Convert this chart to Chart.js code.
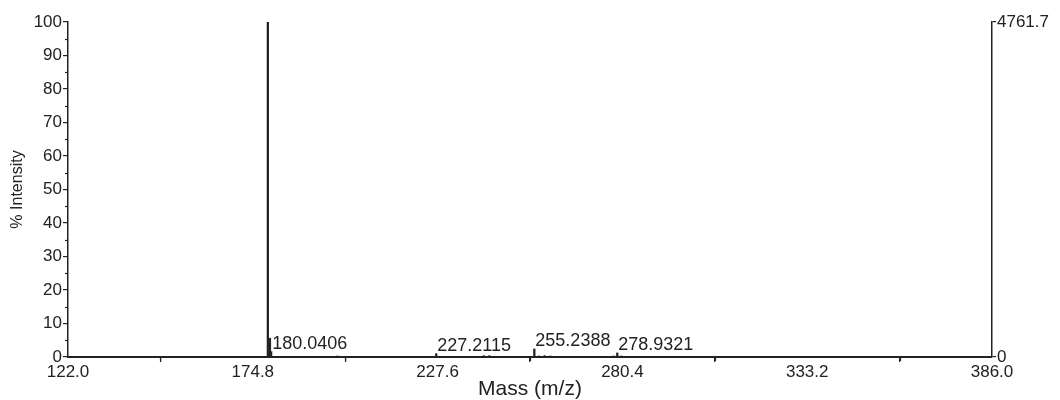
<!DOCTYPE html>
<html>
<head>
<meta charset="utf-8">
<title>Mass spectrum</title>
<script src="https://cdn.jsdelivr.net/npm/chart.js@4.4.1/dist/chart.umd.min.js"></script>
<style>
    html, body { margin: 0; padding: 0; background: #fff; }
    #wrap { width: 1060px; height: 400px; position: relative; }
</style>
</head>
<body>
<div id="wrap"><canvas id="spectrum"></canvas></div>
<script>
    // peak list (m/z, % intensity)
    const peakMasses = [179.1, 179.7, 180.04, 199.0, 227.21, 240.8, 242.4, 255.24, 256.6, 258.2, 259.8, 277.9, 278.93, 280.1];
    const peakIntensities = [100, 5.6, 1.6, 0.3, 1.0, 0.4, 0.4, 2.4, 0.3, 0.4, 0.3, 0.3, 1.2, 0.3];

    // labelled peaks
    const labelMasses = [180.0406, 227.2115, 255.2388, 278.9321];
    const labelIntensities = [1.6, 1.0, 2.4, 1.2];

    const xTicks = [122.0, 174.8, 227.6, 280.4, 333.2, 386.0];
    const xMinorTicks = [148.4, 201.2, 254.0, 306.8, 359.6];
    const yTicks = [0, 10, 20, 30, 40, 50, 60, 70, 80, 90, 100];
    const yMinorTicks = [5, 15, 25, 35, 45, 55, 65, 75, 85, 95];
    const countsMax = 4761.7;
    const countsTicks = [0, 4761.7];

    const FONT = 'Liberation Sans, Arial, sans-serif';
    const INK = '#222';

    const points = peakMasses.map((m, i) => ({ x: m, y: peakIntensities[i] }));

    // minor ticks and peak labels, drawn through the scales
    const extrasPlugin = {
        id: 'extras',
        afterDraw(chart) {
            const ctx = chart.ctx;
            const xs = chart.scales.x;
            const ys = chart.scales.y;
            const area = chart.chartArea;
            ctx.save();
            ctx.strokeStyle = INK;
            ctx.lineWidth = 1.2;
            xMinorTicks.forEach(v => {
                const px = Math.round(xs.getPixelForValue(v)) + 0.5;
                ctx.beginPath();
                ctx.moveTo(px, area.bottom);
                ctx.lineTo(px, area.bottom + 4);
                ctx.stroke();
            });
            yMinorTicks.forEach(v => {
                const py = Math.round(ys.getPixelForValue(v)) + 0.5;
                ctx.beginPath();
                ctx.moveTo(area.left - 3, py);
                ctx.lineTo(area.left, py);
                ctx.stroke();
            });
            ctx.fillStyle = INK;
            ctx.font = '18px ' + FONT;
            ctx.textAlign = 'left';
            ctx.textBaseline = 'alphabetic';
            labelMasses.forEach((m, i) => {
                const px = xs.getPixelForValue(m) + 1;
                const py = ys.getPixelForValue(labelIntensities[i]) - 3;
                ctx.fillText(m.toFixed(4), px, py);
            });
            ctx.restore();
        }
    };

    new Chart(document.getElementById('spectrum').getContext('2d'), {
        type: 'bar',
        data: {
            datasets: [{
                label: '% Intensity',
                data: points,
                backgroundColor: INK,
                borderWidth: 0,
                barThickness: 1.6,
                xAxisID: 'x',
                yAxisID: 'y'
            }]
        },
        options: {
            responsive: true,
            maintainAspectRatio: false,
            animation: false,
            layout: { padding: { top: 22, right: 0, bottom: 0, left: 0 } },
            plugins: {
                legend: { display: false },
                tooltip: { enabled: false }
            },
            scales: {
                x: {
                    type: 'linear',
                    min: 122,
                    max: 386,
                    offset: false,
                    afterBuildTicks: s => { s.ticks = xTicks.map(v => ({ value: v })); },
                    afterFit: s => { s.height = 43; },
                    grid: { drawOnChartArea: false, drawTicks: true, tickLength: 5, color: INK, lineWidth: 1.2 },
                    border: { display: true, color: INK, width: 2 },
                    ticks: {
                        color: INK,
                        font: { family: FONT, size: 17 },
                        padding: 0,
                        maxRotation: 0,
                        autoSkip: false,
                        callback: v => Number(v).toFixed(1)
                    },
                    title: {
                        display: true,
                        text: 'Mass (m/z)',
                        color: INK,
                        font: { family: FONT, size: 21, lineHeight: 1 },
                        padding: { top: 0, bottom: 0 }
                    }
                },
                y: {
                    type: 'linear',
                    position: 'left',
                    min: 0,
                    max: 100,
                    afterBuildTicks: s => { s.ticks = yTicks.map(v => ({ value: v })); },
                    afterFit: s => { s.width = 68; },
                    grid: { drawOnChartArea: false, drawTicks: true, tickLength: 5, color: INK, lineWidth: 1.2 },
                    border: { display: true, color: INK, width: 1.5 },
                    ticks: {
                        color: INK,
                        font: { family: FONT, size: 17 },
                        padding: 1,
                        autoSkip: false
                    },
                    title: {
                        display: true,
                        text: '% Intensity',
                        color: INK,
                        font: { family: FONT, size: 16 },
                        padding: { top: 8, bottom: 0 }
                    }
                },
                y2: {
                    type: 'linear',
                    position: 'right',
                    min: 0,
                    max: countsMax,
                    afterBuildTicks: s => { s.ticks = countsTicks.map(v => ({ value: v })); },
                    afterFit: s => { s.width = 68; },
                    grid: { drawOnChartArea: false, drawTicks: true, tickLength: 4, color: INK, lineWidth: 1.2 },
                    border: { display: true, color: INK, width: 1.5 },
                    ticks: {
                        color: INK,
                        font: { family: FONT, size: 17 },
                        padding: 1,
                        autoSkip: false,
                        callback: v => v === 0 ? '0' : Number(v).toFixed(1)
                    }
                }
            }
        },
        plugins: [extrasPlugin]
    });
</script>
</body>
</html>
